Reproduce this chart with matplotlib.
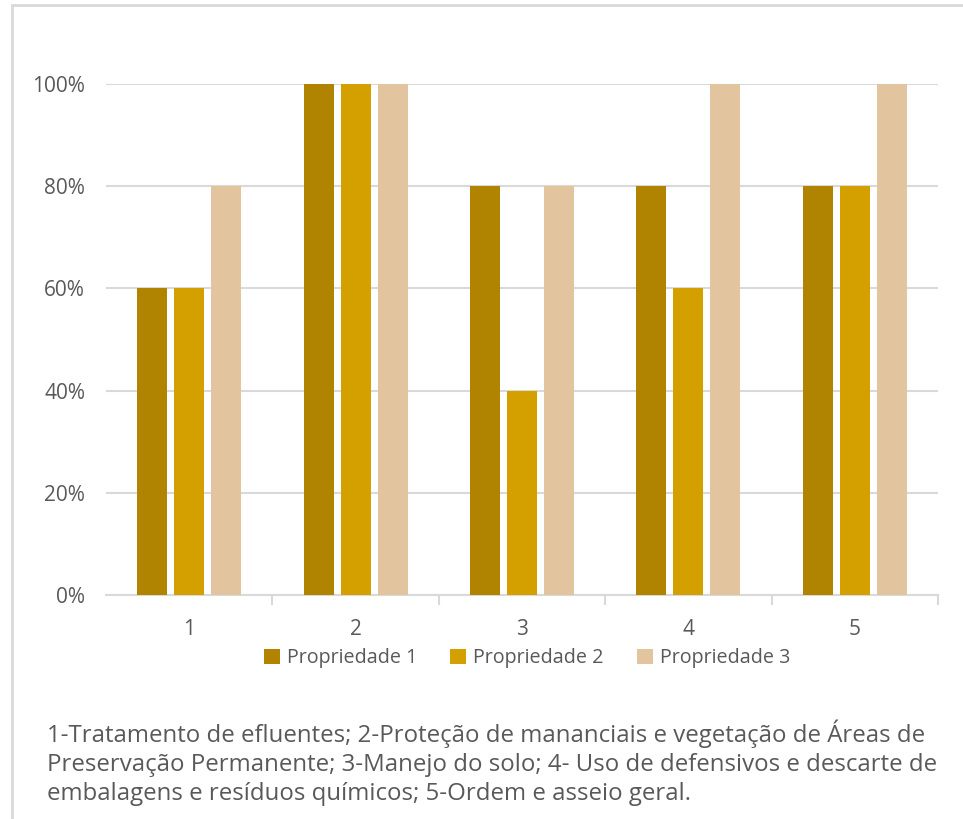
import numpy as np
import matplotlib.pyplot as plt
from matplotlib.patches import Rectangle

plt.rcParams['font.family'] = ['Open Sans', 'DejaVu Sans']

categories = ['1', '2', '3', '4', '5']
series_names = ['Propriedade 1', 'Propriedade 2', 'Propriedade 3']
prop1 = [0.60, 1.00, 0.80, 0.80, 0.80]
prop2 = [0.60, 1.00, 0.40, 0.60, 0.80]
prop3 = [0.80, 1.00, 0.80, 1.00, 1.00]
colors = ['#B08400', '#D4A000', '#E2C59E']
y_ticks = [0.0, 0.2, 0.4, 0.6, 0.8, 1.0]
caption = ("1-Tratamento de efluentes; 2-Proteção de mananciais e vegetação de Áreas de\n"
           "Preservação Permanente; 3-Manejo do solo; 4- Uso de defensivos e descarte de\n"
           "embalagens e resíduos químicos; 5-Ordem e asseio geral.")

text_color = '#595959'
grid_color = '#D9D9D9'

fig = plt.figure(figsize=(9.63, 8.19), dpi=100)
# outer frame of the chart object
fig.patches.append(Rectangle((12 / 963, -0.05), 1.0, 1 - 5 / 819 + 0.05,
                             transform=fig.transFigure, fill=False,
                             edgecolor='#D9D9D9', linewidth=2))

ax = fig.add_axes([106 / 963, 1 - 595 / 819, (938 - 106) / 963, (595 - 84) / 819])

x = np.arange(len(categories))
width = 0.18
step = 0.222
for i, (vals, name) in enumerate(zip([prop1, prop2, prop3], series_names)):
    ax.bar(x + (i - 1) * step, vals, width, color=colors[i], label=name, zorder=3)

ax.set_xlim(-0.5, len(categories) - 0.5)
ax.set_ylim(0, 1.0)
ax.set_yticks(y_ticks)
ax.set_yticklabels([f'{int(round(v * 100))}%' for v in y_ticks])
ax.yaxis.grid(True, color=grid_color, linewidth=1.5, zorder=0)
ax.tick_params(axis='y', length=0, pad=15, labelsize=15, labelcolor=text_color)

ax.set_xticks(x)
ax.set_xticklabels(categories)
ax.tick_params(axis='x', length=0, pad=17, labelsize=15, labelcolor=text_color)
# tick marks sit on the category boundaries
ax.set_xticks(np.arange(0.5, len(categories), 1.0), minor=True)
ax.tick_params(axis='x', which='minor', length=7, width=1.5, color=grid_color, direction='out')

for side in ['top', 'right', 'left']:
    ax.spines[side].set_visible(False)
ax.spines['bottom'].set_color(grid_color)
ax.spines['bottom'].set_linewidth(1.5)

fig.legend(loc='center', bbox_to_anchor=(527 / 963, 1 - 658 / 819), ncol=3,
           frameon=False, fontsize=14.2, labelcolor=text_color,
           handlelength=0.8, handleheight=0.8, handletextpad=0.35, columnspacing=1.7)

fig.text(47 / 963, 1 - 719 / 819, caption, ha='left', va='top',
         fontsize=17.3, color=text_color, linespacing=1.28)

fig.savefig('out.png', dpi=100, facecolor='white')
